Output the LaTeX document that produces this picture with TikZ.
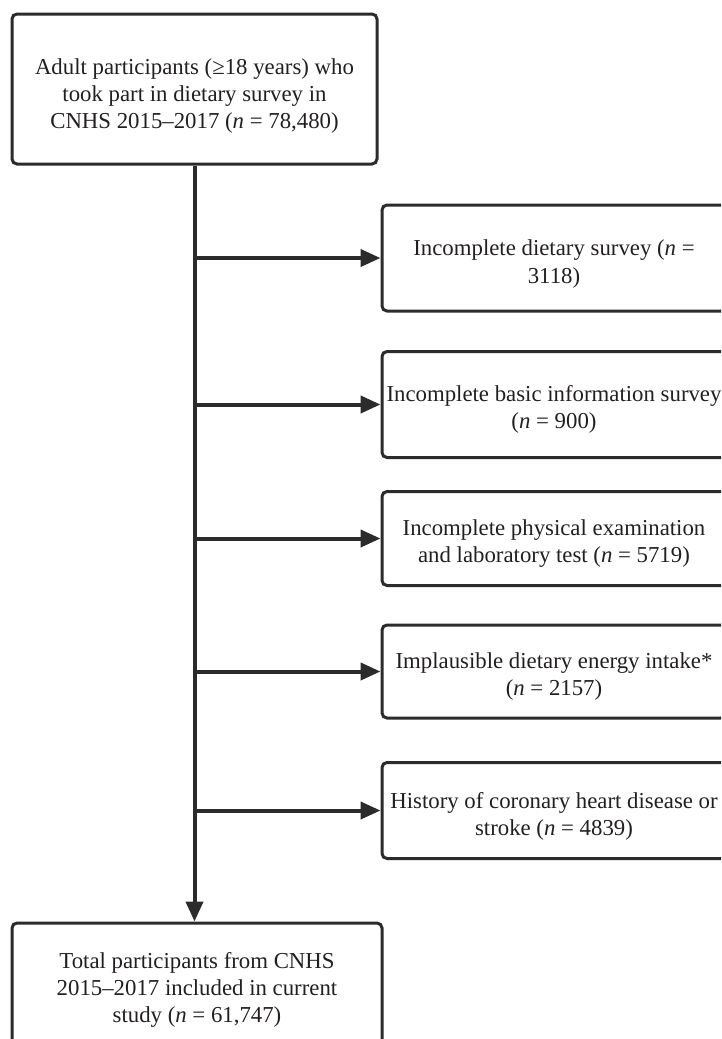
\documentclass[tikz,border=0pt]{standalone}
\usepackage{fontspec}
\setmainfont{Liberation Serif}
\usetikzlibrary{arrows.meta,positioning}
\definecolor{linec}{HTML}{2B2B2B}
\definecolor{textc}{HTML}{231F20}
\begin{document}
\begin{tikzpicture}[x=1pt,y=-1pt,
  box/.style={draw=linec,line width=3pt,rounded corners=5pt,inner sep=0pt},
  txt/.style={align=center,text=textc,font=\fontsize{22.8}{27.2}\selectfont,inner sep=0pt},
  conn/.style={draw=linec,line width=4pt,-{Triangle[length=20pt,width=17pt]}}]
\useasboundingbox (0,0) rectangle (721,1039);
\clip (0,0) rectangle (721,1039);
\node[box,minimum width=365pt,minimum height=150pt] (top) at (194.5,89) {};
\node[txt] (ttop) at ([yshift=-7pt]top.center)
  {Adult participants (≥18 years) who\\took part in dietary survey in\\CNHS 2015–2017 (\textit{n} = 78,480)};
\node[box,minimum width=344pt,minimum height=106pt] (b1) at (554,258) {};
\node[txt] (t1) at ([yshift=-6pt]b1.center)
  {Incomplete dietary survey (\textit{n} =\\3118)};
\node[box,minimum width=344pt,minimum height=106pt] (b2) at (554,404.5) {};
\node[txt] (t2) at ([yshift=-5pt]b2.center)
  {Incomplete basic information survey\\(\textit{n} = 900)};
\node[box,minimum width=344pt,minimum height=94pt] (b3) at (554,538.5) {};
\node[txt] (t3) at ([yshift=-5pt]b3.center)
  {Incomplete physical examination\\and laboratory test (\textit{n} = 5719)};
\node[box,minimum width=344pt,minimum height=93pt] (b4) at (554,671.5) {};
\node[txt] (t4) at ([yshift=-5pt]b4.center)
  {Implausible dietary energy intake*\\(\textit{n} = 2157)};
\node[box,minimum width=344pt,minimum height=96pt] (b5) at (554,810.5) {};
\node[txt] (t5) at ([yshift=-6pt]b5.center)
  {History of coronary heart disease or\\stroke (\textit{n} = 4839)};
\node[box,minimum width=370pt,minimum height=150pt] (bot) at (197,998) {};
\node[txt] (tbot) at ([yshift=8pt]bot.center)
  {Total participants from CNHS\\2015–2017 included in current\\study (\textit{n} = 61,747)};
\draw[conn] (top.south) -- (top.south |- bot.north);
\foreach \b in {b1,b2,b3,b4,b5}{
  \coordinate (j\b) at (top.south |- \b.west);
  \draw[conn] (j\b) -- (\b.west);
}
\end{tikzpicture}
\end{document}
